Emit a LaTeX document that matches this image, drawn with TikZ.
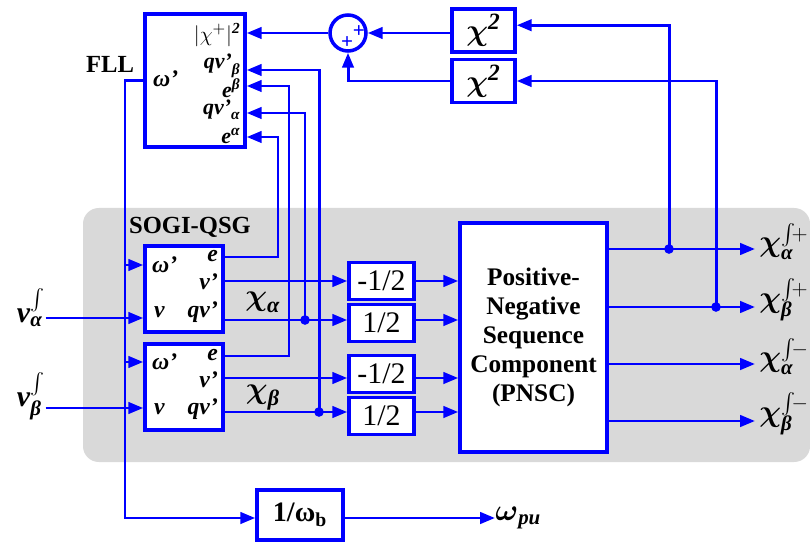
\documentclass[tikz,border=0pt]{standalone}
\usepackage{fontspec}
\setmainfont{Liberation Serif}
\usepackage{amsmath}
\usetikzlibrary{arrows.meta,calc,positioning}
\definecolor{bggray}{RGB}{217,217,217}
\newcommand{\bi}[1]{\textbf{\textit{#1}}}
\newcommand{\mb}[1]{\text{\bi{#1}}}
\newcommand{\bchi}{\boldsymbol{\chi}}

\tikzset{
  blk/.style={draw=blue, line width=2pt, fill=white, inner sep=0pt},
  wire/.style={blue, line width=1.7pt},
  arr/.style={wire, -{Triangle[length=8.5pt,width=6.5pt]}},
  jdot/.style={circle, fill=blue, inner sep=0pt, minimum size=5.5pt},
  lbl/.style={font=\fontsize{13.5}{15}\selectfont, inner sep=1pt},
  fl/.style={font=\fontsize{12.5}{14}\selectfont, inner sep=0pt, anchor=east},
  big/.style={font=\fontsize{17}{19}\selectfont, inner sep=0pt},
  outl/.style={font=\fontsize{17}{19}\selectfont, inner sep=0pt, anchor=west},
  sqbox/.style={blk, minimum width=1.26cm, minimum height=0.86cm, font=\fontsize{19}{21}\selectfont},
  sogi/.style={blk, minimum width=1.56cm, minimum height=1.72cm},
  gain/.style={blk, minimum width=1.3cm, minimum height=0.74cm, font=\fontsize{17}{19}\selectfont},
  head/.style={font=\fontsize{14}{16}\selectfont\bfseries, inner sep=0pt},
  plus/.style={blue, font=\fontsize{12}{12}\selectfont\bfseries, inner sep=0pt}
}

\begin{document}
\begin{tikzpicture}[x=0.02cm, y=-0.02cm]
\useasboundingbox (0,0) rectangle (810,543);
\fill[bggray, rounded corners=9pt] (83,208) rectangle (810,462);

% FLL and squaring part
\node[blk, minimum width=2cm, minimum height=2.66cm] (fll) at (195,80.5) {};
\node[head] (fll-t) at (110,64) {FLL};
\node[lbl, anchor=west] (fll-w) at (151,79) {\bi{ω'}};
\node[fl] (fll-lx) at (241,35) {$|\chi^{+}|^{\mb{2}}$};
\node[fl] (fll-lqb) at (241,66) {$\mb{qv'}_{\mb{β}}$};
\node[fl] (fll-leb) at (241,88) {$\mb{e}^{\mb{β}}$};
\node[fl] (fll-lqa) at (241,110) {$\mb{qv'}_{\mb{α}}$};
\node[fl] (fll-lea) at (241,136) {$\mb{e}^{\mb{α}}$};
\coordinate (fll-x) at (fll.east |- 0,33);
\coordinate (fll-qb) at (fll.east |- 0,70);
\coordinate (fll-eb) at (fll.east |- 0,86);
\coordinate (fll-qa) at (fll.east |- 0,113);
\coordinate (fll-ea) at (fll.east |- 0,137);

\node[blk, circle, minimum size=0.72cm] (sum) at (348,33) {};
\node[plus] (sum-p1) at (359,32) {+};
\node[plus] (sum-p2) at (347,43) {+};
\node[sqbox] (sqa) at (483.5,30.5) {$\bchi^{\mb{2}}$};
\node[sqbox] (sqb) at (483.5,81) {$\bchi^{\mb{2}}$};

% SOGI-QSG blocks
\node[head] (sogi-t) at (190,227) {SOGI-QSG};
\node[sogi] (sogia) at (184,289) {};
\node[lbl, anchor=west] (sa-lw) at (150,265) {\bi{ω'}};
\node[lbl, anchor=east] (sa-le) at (220,256) {\bi{e}};
\node[lbl, anchor=east] (sa-lp) at (220,282) {\bi{v'}};
\node[lbl, anchor=west] (sa-lv) at (152,312) {\bi{v}};
\node[lbl, anchor=east] (sa-lq) at (220,312) {\bi{qv'}};
\node[sogi] (sogib) at (184,387) {};
\node[lbl, anchor=west] (sb-lw) at (150,362) {\bi{ω'}};
\node[lbl, anchor=east] (sb-le) at (220,355) {\bi{e}};
\node[lbl, anchor=east] (sb-lp) at (220,380) {\bi{v'}};
\node[lbl, anchor=west] (sb-lv) at (152,409) {\bi{v}};
\node[lbl, anchor=east] (sb-lq) at (220,409) {\bi{qv'}};
\coordinate (sa-w) at (sogia.west |- 0,265);
\coordinate (sa-v) at (sogia.west |- 0,318);
\coordinate (sa-e) at (sogia.east |- 0,257);
\coordinate (sa-p) at (sogia.east |- 0,281);
\coordinate (sa-q) at (sogia.east |- 0,320);
\coordinate (sb-w) at (sogib.west |- 0,362);
\coordinate (sb-v) at (sogib.west |- 0,408);
\coordinate (sb-e) at (sogib.east |- 0,356);
\coordinate (sb-p) at (sogib.east |- 0,378);
\coordinate (sb-q) at (sogib.east |- 0,412);

\node[big] (va) at (31,308) {$\mb{v}^{\int}_{\mb{α}}$};
\node[big] (vb) at (31,396) {$\mb{v}^{\int}_{\mb{β}}$};
\node[font=\fontsize{18}{20}\selectfont] (chia) at (263,302) {$\bchi_{\mb{α}}$};
\node[font=\fontsize{18}{20}\selectfont] (chib) at (263,398) {$\bchi_{\mb{β}}$};

% gains and PNSC
\node[gain] (g1) at (381.5,281) {-1/2};
\node[gain] (g2) at (381.5,323) {1/2};
\node[gain] (g3) at (381.5,374) {-1/2};
\node[gain] (g4) at (381.5,416) {1/2};
\node[blk, minimum width=2.94cm, minimum height=4.58cm, align=center,
      font=\fontsize{14.4}{16.5}\selectfont\bfseries] (pnsc) at (533.5,337.5)
      {Positive-\\Negative\\Sequence\\Component\\(PNSC)};

\coordinate (o1) at (755,249);
\coordinate (o2) at (755,307);
\coordinate (o3) at (755,364);
\coordinate (o4) at (755,421);
\node[outl] (xap) at (759,244) {$\bchi^{\smash{\int}\!+}_{\mb{α}}$};
\node[outl] (xbp) at (759,302) {$\bchi^{\smash{\int}\!+}_{\mb{β}}$};
\node[outl] (xam) at (759,359) {$\bchi^{\smash{\int}\!-}_{\mb{α}}$};
\node[outl] (xbm) at (759,416) {$\bchi^{\smash{\int}\!-}_{\mb{β}}$};

\node[blk, minimum width=1.72cm, minimum height=1.0cm,
      font=\fontsize{16}{18}\selectfont\bfseries] (omb) at (300,515) {1/ω$_{\textbf{b}}$};
\node[big, anchor=west] (wpu) at (495,518) {$\boldsymbol{\omega}_{\mb{pu}}$};

% columns
\coordinate (bus) at (125,518);
\coordinate (ca) at (278,0);
\coordinate (cb) at (289,0);
\coordinate (cc) at (305,0);
\coordinate (cd) at (319,0);

% wires
\draw[arr] (fll.west) -| (bus) -- (omb.west |- bus);
\draw[arr] (omb.east |- bus) -- (wpu.west);
\draw[arr] (bus |- sa-w) -- (sa-w);
\draw[arr] (bus |- sb-w) -- (sb-w);
\draw[arr] (va.east |- sa-v) -- (sa-v);
\draw[arr] (vb.east |- sb-v) -- (sb-v);

\draw[arr] (sa-e) -| (ca |- fll-ea) -- (fll-ea);
\draw[arr] (sb-e) -| (cb |- fll-eb) -- (fll-eb);
\draw[arr] (sa-p) -- (g1.west |- sa-p);
\draw[arr] (sa-q) -- (g2.west |- sa-q);
\draw[arr] (sb-p) -- (g3.west |- sb-p);
\draw[arr] (sb-q) -- (g4.west |- sb-q);
\draw[arr] (cc |- sa-q) -- (cc |- fll-qa) -- (fll-qa);
\draw[arr] (cd |- sb-q) -- (cd |- fll-qb) -- (fll-qb);
\node[jdot] (da) at (cc |- sa-q) {};
\node[jdot] (db) at (cd |- sb-q) {};

\draw[arr] (g1.east |- sa-p) -- (pnsc.west |- sa-p);
\draw[arr] (g2.east |- sa-q) -- (pnsc.west |- sa-q);
\draw[arr] (g3.east |- sb-p) -- (pnsc.west |- sb-p);
\draw[arr] (g4.east |- sb-q) -- (pnsc.west |- sb-q);

\draw[arr] (pnsc.east |- o1) -- (o1);
\draw[arr] (pnsc.east |- o2) -- (o2);
\draw[arr] (pnsc.east |- o3) -- (o3);
\draw[arr] (pnsc.east |- o4) -- (o4);
\node[jdot] (ta) at (669,249) {};
\node[jdot] (tb) at (716,307) {};
\draw[arr] (ta.center) |- ([yshift=3pt]sqa.east);
\draw[arr] (tb.center) |- (sqb.east);

\draw[arr] (sqa.west |- sum) -- (sum.east);
\draw[arr] (sqb.west) -| (sum.south);
\draw[arr] (sum.west) -- (fll-x);
\end{tikzpicture}
\end{document}
